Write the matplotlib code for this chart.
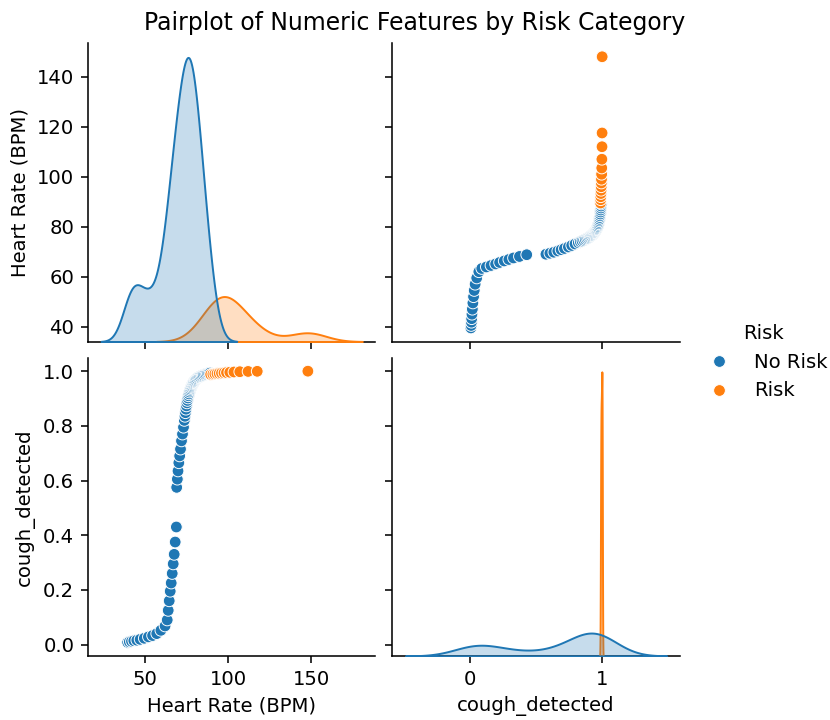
import matplotlib
matplotlib.use("Agg")
import matplotlib.pyplot as plt
import numpy as np
import pandas as pd
import seaborn as sns

# readings for the "No Risk" group (heart rate, cough probability)
no_risk_hr = [39.5, 40.5, 41.8, 43.2, 45.0, 47.0, 49.5, 52.0, 54.5, 57.0, 59.5, 62.0,
              63.3, 63.9, 64.5, 65.1, 65.7, 66.3, 66.9, 67.5, 68.1, 68.8,
              69.0, 69.4, 69.8, 70.3, 70.8, 71.3, 71.9, 72.5, 73.1, 73.6,
              74.0, 74.3, 74.6, 74.9, 75.2, 75.5, 75.8, 76.1, 76.4, 76.7, 77.0, 77.3,
              77.6, 77.9, 78.2, 78.5, 78.8, 79.1, 79.4, 79.8, 80.2, 80.7, 81.2, 81.8,
              82.4, 83.0, 83.7, 84.4, 85.1, 85.9, 86.7, 87.5, 88.3, 89.1]
no_risk_cough = [0.008, 0.010, 0.012, 0.014, 0.016, 0.019, 0.023, 0.028, 0.033, 0.040, 0.052, 0.068,
                 0.09, 0.125, 0.16, 0.195, 0.225, 0.26, 0.295, 0.33, 0.375, 0.43,
                 0.575, 0.605, 0.635, 0.665, 0.69, 0.715, 0.745, 0.77, 0.795, 0.82,
                 0.835, 0.848, 0.861, 0.873, 0.884, 0.893, 0.902, 0.910, 0.917, 0.924, 0.930, 0.935,
                 0.940, 0.944, 0.948, 0.952, 0.955, 0.958, 0.961, 0.964, 0.967, 0.970, 0.973, 0.976,
                 0.978, 0.980, 0.982, 0.984, 0.986, 0.988, 0.989, 0.991, 0.992, 0.993]

# readings for the "Risk" group
risk_hr = [89.5, 90.8, 92.0, 93.3, 94.6, 96.0, 97.5, 99.0, 101.0, 103.5, 107.0, 112.0, 117.5,
           148.0, 148.0]
risk_cough = [0.988, 0.989, 0.990, 0.991, 0.992, 0.993, 0.994, 0.995, 0.996, 0.997, 0.998, 0.999, 0.9995,
              1.0, 1.0]

labels = ["No Risk", "Risk"]

df = pd.DataFrame({
    "Heart Rate (BPM)": no_risk_hr + risk_hr,
    "cough_detected": no_risk_cough + risk_cough,
    "Risk": [labels[0]] * len(no_risk_hr) + [labels[1]] * len(risk_hr),
})

DPI = 141

g = sns.pairplot(df, hue="Risk", hue_order=labels)
g.fig.suptitle("Pairplot of Numeric Features by Risk Category", y=0.985)

g.fig.set_size_inches(830 / DPI, 720 / DPI)
g.fig.subplots_adjust(left=0.106, right=0.819, top=0.940, bottom=0.089,
                      wspace=0.059, hspace=0.054)
g.axes[1, 1].set_xticks([0, 1])
g._legend.set_bbox_to_anchor((1.018, 0.497), transform=g.fig.transFigure)

g.fig.savefig("out.png", dpi=DPI)
